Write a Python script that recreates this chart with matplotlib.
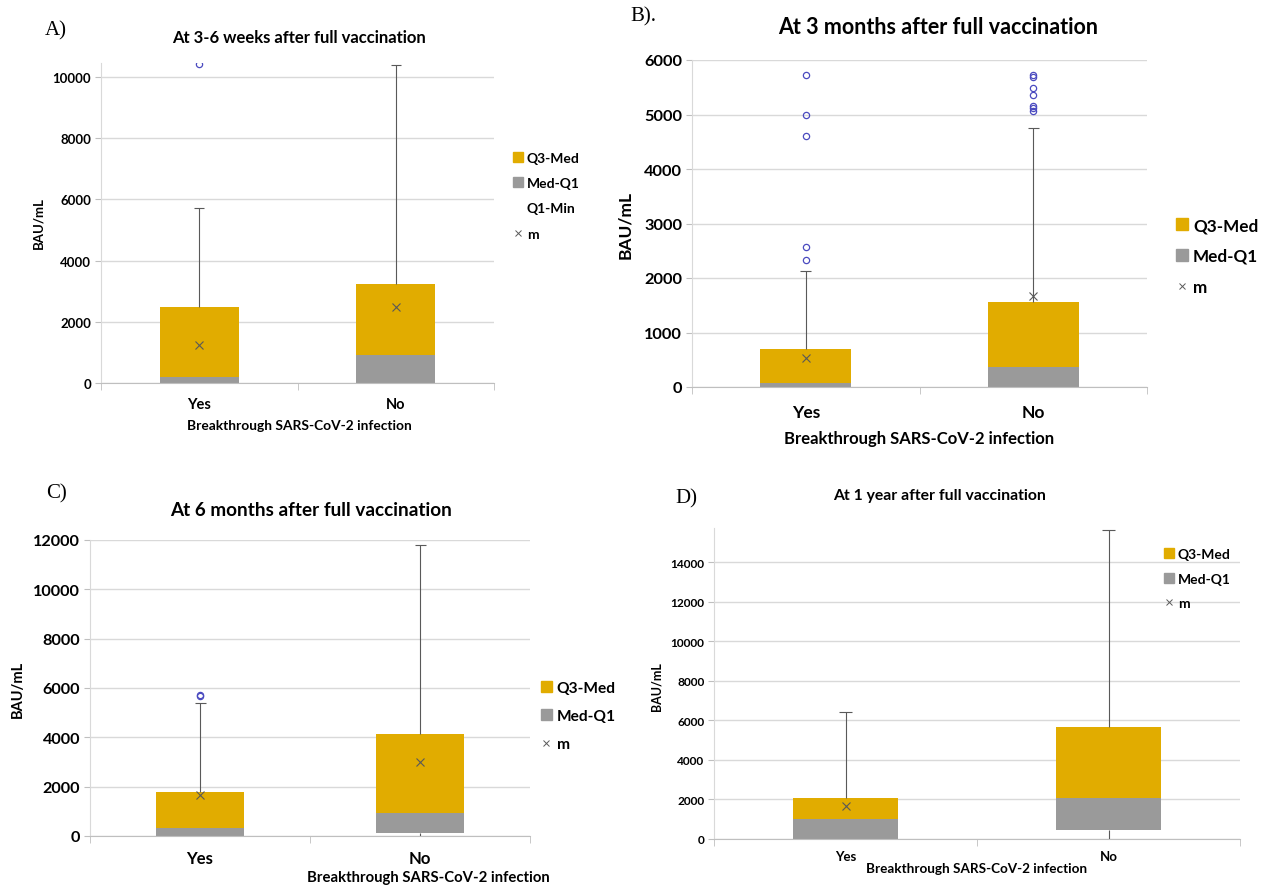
import matplotlib.pyplot as plt
import numpy as np
from matplotlib.patches import Patch
from matplotlib.lines import Line2D

plt.rcParams['font.family'] = ['Lato', 'DejaVu Sans']

W, H = 1282, 887

categories = ['Yes', 'No']

# panel A: 3-6 weeks
a_q1 = [0, 0]
a_med = [200, 930]
a_q3 = [2500, 3250]
a_min = [0, 0]
a_max = [5720, 10400]
a_mean = [1230, 2470]
a_out = [[10420], []]

# panel B: 3 months
b_q1 = [0, 0]
b_med = [70, 370]
b_q3 = [690, 1560]
b_min = [0, 0]
b_max = [2130, 4750]
b_mean = [540, 1670]
b_out = [[2330, 2560, 4600, 5000, 5720],
         [5070, 5120, 5160, 5350, 5480, 5690, 5730]]

# panel C: 6 months
c_q1 = [0, 140]
c_med = [310, 920]
c_q3 = [1780, 4130]
c_min = [0, 0]
c_max = [5400, 11800]
c_mean = [1650, 3020]
c_out = [[5660, 5720], []]

# panel D: 1 year
d_q1 = [0, 450]
d_med = [1030, 2070]
d_q3 = [2060, 5670]
d_min = [0, 0]
d_max = [6430, 15600]
d_mean = [1650, np.nan]
d_out = [[], []]

GOLD = '#E1AC00'
GRAY = '#9A9A9A'
DARK = '#595959'
BLUE = '#4B4BC0'


def px_axes(fig, left, right, top, bottom):
    return fig.add_axes([left / W, 1 - bottom / H, (right - left) / W, (bottom - top) / H])


def draw_box(ax, q1, med, q3, vmin, vmax, mean, outl, ylim, yticks, ysize, xsize, pad, cap=0.025):
    x = np.arange(len(categories))
    ax.bar(x, np.array(med) - np.array(q1), 0.4, bottom=q1, color=GRAY, zorder=2)
    ax.bar(x, np.array(q3) - np.array(med), 0.4, bottom=med, color=GOLD, zorder=2)
    for i in x:
        ax.vlines(i, q3[i], vmax[i], color=DARK, lw=0.8, zorder=3)
        ax.hlines(vmax[i], i - cap, i + cap, color=DARK, lw=0.8, zorder=3)
        if q1[i] > vmin[i]:
            ax.vlines(i, vmin[i], q1[i], color=DARK, lw=0.8, zorder=3)
        if outl[i]:
            ax.plot([i] * len(outl[i]), outl[i], 'o', mfc='none', mec=BLUE,
                    ms=4.5, mew=0.9, zorder=4)
    ax.plot(x, mean, 'x', color=DARK, ms=6, mew=0.8, zorder=5, ls='none')
    ax.set_xlim(-0.5, 1.5)
    ax.set_ylim(*ylim)
    ax.set_yticks(yticks)
    ax.set_xticks(x)
    ax.set_xticklabels(categories, fontsize=xsize, fontweight='bold')
    ax.set_xticks([-0.5, 0.5, 1.5], minor=True)
    ax.tick_params(axis='x', which='major', length=0, pad=pad)
    ax.tick_params(axis='x', which='minor', length=5, color='#BFBFBF')
    ax.tick_params(axis='y', length=4, color='#BFBFBF', labelsize=ysize, pad=3)
    for lab in ax.get_yticklabels():
        lab.set_fontweight('bold')
    ax.grid(axis='y', color='#D9D9D9', lw=1, zorder=0)
    ax.set_axisbelow(True)
    for s in ['top', 'right']:
        ax.spines[s].set_visible(False)
    ax.spines['left'].set_color('#D9D9D9')
    ax.spines['bottom'].set_color('#BFBFBF')


def legend(ax, fig, x, y, size, spacing, q1min=False):
    h = [Patch(color=GOLD, label='Q3-Med'), Patch(color=GRAY, label='Med-Q1')]
    if q1min:
        h.append(Patch(color='none', label='Q1-Min'))
    h.append(Line2D([], [], marker='x', ls='none', color=DARK, ms=5, mew=0.7, label='m'))
    ax.legend(handles=h, loc='upper left', bbox_to_anchor=(x / W, 1 - y / H),
              bbox_transform=fig.transFigure, frameon=False,
              prop={'size': size, 'weight': 'bold'}, handlelength=0.7,
              handleheight=0.7, handletextpad=0.3, labelspacing=spacing,
              borderpad=0, borderaxespad=0)


fig = plt.figure(figsize=(W / 100, H / 100), dpi=100)
xl = 'Breakthrough SARS-CoV-2 infection'

# A
ax = px_axes(fig, 101, 494, 64, 384)
draw_box(ax, a_q1, a_med, a_q3, a_min, a_max, a_mean, a_out,
         (0, 10460), range(0, 10001, 2000), 9.5, 10.5, 10)
legend(ax, fig, 513, 153, 10, 0.95, q1min=True)
fig.text(299 / W, 1 - 38 / H, 'At 3-6 weeks after full vaccination', ha='center', va='center',
         fontsize=12, fontweight='bold')
fig.text(299 / W, 1 - 426 / H, xl, ha='center', va='center', fontsize=9.9, fontweight='bold')
fig.text(38 / W, 1 - 223 / H, 'BAU/mL', rotation=90, ha='center', va='center',
         fontsize=9.5, fontweight='bold')
fig.text(45 / W, 1 - 31 / H, 'A)', family='Liberation Serif', fontsize=15, va='center')

# B
ax = px_axes(fig, 692, 1147, 61, 388)
draw_box(ax, b_q1, b_med, b_q3, b_min, b_max, b_mean, b_out,
         (0, 6000), range(0, 6001, 1000), 11.8, 12.5, 12)
legend(ax, fig, 1176, 218, 12.3, 0.87)
fig.text(938 / W, 1 - 28 / H, 'At 3 months after full vaccination', ha='center', va='center',
         fontsize=15.5, fontweight='bold')
fig.text(919 / W, 1 - 439 / H, xl, ha='center', va='center', fontsize=12, fontweight='bold')
fig.text(625 / W, 1 - 225 / H, 'BAU/mL', rotation=90, ha='center', va='center',
         fontsize=12.5, fontweight='bold')
fig.text(630 / W, 1 - 17 / H, 'B).', family='Liberation Serif', fontsize=15, va='center')

# C
ax = px_axes(fig, 90, 530, 541, 837)
draw_box(ax, c_q1, c_med, c_q3, c_min, c_max, c_mean, c_out,
         (0, 12000), range(0, 12001, 2000), 11.7, 12, 10)
legend(ax, fig, 541, 682, 11.2, 0.9)
fig.text(311 / W, 1 - 511 / H, 'At 6 months after full vaccination', ha='center', va='center',
         fontsize=13.6, fontweight='bold')
fig.text(428 / W, 1 - 878 / H, xl, ha='center', va='center', fontsize=10.7, fontweight='bold')
fig.text(18 / W, 1 - 689 / H, 'BAU/mL', rotation=90, ha='center', va='center',
         fontsize=10.5, fontweight='bold')
fig.text(46 / W, 1 - 494 / H, 'C)', family='Liberation Serif', fontsize=15, va='center')

# D
ax = px_axes(fig, 714, 1240, 529, 840)
draw_box(ax, d_q1, d_med, d_q3, d_min, d_max, d_mean, d_out,
         (0, 15720), range(0, 14001, 2000), 8.6, 9.5, 8)
legend(ax, fig, 1164, 549, 10, 0.9)
fig.text(940 / W, 1 - 496 / H, 'At 1 year after full vaccination', ha='center', va='center',
         fontsize=11.3, fontweight='bold')
fig.text(977 / W, 1 - 869 / H, xl, ha='center', va='center', fontsize=9.7, fontweight='bold')
fig.text(656 / W, 1 - 687 / H, 'BAU/mL', rotation=90, ha='center', va='center',
         fontsize=9, fontweight='bold')
fig.text(675 / W, 1 - 499 / H, 'D)', family='Liberation Serif', fontsize=15, va='center')

fig.savefig('out.png', dpi=100)
